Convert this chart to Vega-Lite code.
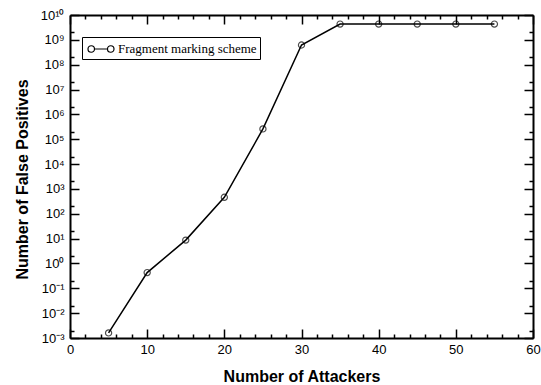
{
  "$schema": "https://vega.github.io/schema/vega-lite/v6.json",
  "width": 463,
  "height": 323,
  "autosize": "none",
  "padding": {"left": 70, "top": 15, "right": 8, "bottom": 47},
  "background": "white",
  "config": {
    "view": {"stroke": null},
    "axis": {
      "grid": false,
      "labelFlush": false,
      "domainColor": "black",
      "domainWidth": 2,
      "tickColor": "black",
      "tickWidth": 1.5,
      "labelColor": "black",
      "labelFont": "Liberation Sans",
      "labelFontSize": 13,
      "titleFont": "Liberation Sans",
      "titleFontSize": 16,
      "titleFontWeight": "bold",
      "titleColor": "black"
    }
  },
  "data": {
    "values": [
      {"attackers": 5, "fp": 0.0016},
      {"attackers": 10, "fp": 0.43},
      {"attackers": 15, "fp": 8.7},
      {"attackers": 20, "fp": 460},
      {"attackers": 25, "fp": 260000},
      {"attackers": 30, "fp": 620000000},
      {"attackers": 35, "fp": 4300000000},
      {"attackers": 40, "fp": 4300000000},
      {"attackers": 45, "fp": 4300000000},
      {"attackers": 50, "fp": 4300000000},
      {"attackers": 55, "fp": 4300000000}
    ]
  },
  "layer": [
    {
      "mark": {"type": "line", "strokeWidth": 1.5},
      "encoding": {
        "x": {
          "field": "attackers", "type": "quantitative",
          "scale": {"domain": [0, 60], "nice": false, "zero": false},
          "axis": {
            "orient": "bottom",
            "values": [0, 10, 20, 30, 40, 50, 60],
            "tickSize": -9,
            "labelPadding": 14,
            "labelBaseline": "top",
            "title": "Number of Attackers",
            "titleY": 43,
            "titleBaseline": "alphabetic"
          }
        },
        "y": {
          "field": "fp", "type": "quantitative",
          "scale": {"type": "log", "domain": [0.001, 10000000000], "nice": false},
          "axis": {
            "orient": "left",
            "values": [0.001, 0.01, 0.1, 1, 10, 100, 1000, 10000, 100000, 1000000, 10000000, 100000000, 1000000000, 10000000000],
            "tickSize": -9,
            "labelPadding": 15,
            "labelExpr": "datum.value < 0.005 ? '10⁻³' : datum.value < 0.05 ? '10⁻²' : datum.value < 0.5 ? '10⁻¹' : datum.value < 5 ? '10⁰' : datum.value < 50 ? '10¹' : datum.value < 500 ? '10²' : datum.value < 5000 ? '10³' : datum.value < 50000 ? '10⁴' : datum.value < 500000 ? '10⁵' : datum.value < 5000000 ? '10⁶' : datum.value < 50000000 ? '10⁷' : datum.value < 500000000 ? '10⁸' : datum.value < 5000000000 ? '10⁹' : '10¹⁰'",
            "title": "Number of False Positives",
            "titleX": -43,
            "titleY": 164,
            "titleBaseline": "alphabetic",
            "titleAngle": 270
          }
        },
        "color": {
          "datum": "Fragment marking scheme",
          "scale": {"range": ["black"]},
          "legend": {
            "title": null,
            "orient": "none",
            "legendX": 12,
            "legendY": 22,
            "strokeColor": "black",
            "padding": 3,
            "symbolType": "M-1.6,0 A0.4,0.4 0 1,1 -0.8,0 A0.4,0.4 0 1,1 -1.6,0 M-0.8,0 L0.8,0 M0.8,0 A0.4,0.4 0 1,1 1.6,0 A0.4,0.4 0 1,1 0.8,0",
            "symbolSize": 264,
            "symbolStrokeWidth": 1.2,
            "symbolFillColor": "transparent",
            "symbolOffset": 7,
            "labelOffset": 8,
            "labelFont": "Liberation Serif",
            "labelFontSize": 13,
            "labelColor": "black"
          }
        }
      }
    },
    {
      "mark": {"type": "point", "shape": "circle", "filled": false, "color": "black", "size": 38, "strokeWidth": 1.2},
      "encoding": {
        "x": {
          "field": "attackers", "type": "quantitative",
          "scale": {"domain": [0, 60], "nice": false, "zero": false},
          "axis": {"orient": "top", "values": [0, 10, 20, 30, 40, 50, 60], "tickSize": -9, "labels": false, "title": null}
        },
        "y": {
          "field": "fp", "type": "quantitative",
          "scale": {"type": "log", "domain": [0.001, 10000000000], "nice": false},
          "axis": {"orient": "right", "values": [0.001, 0.01, 0.1, 1, 10, 100, 1000, 10000, 100000, 1000000, 10000000, 100000000, 1000000000, 10000000000], "tickSize": -9, "labels": false, "title": null}
        }
      }
    },
    {
      "mark": {"type": "point", "opacity": 0},
      "encoding": {
        "x": {
          "field": "attackers", "type": "quantitative",
          "scale": {"domain": [0, 60], "nice": false, "zero": false},
          "axis": {"orient": "bottom", "values": [2, 4, 6, 8, 12, 14, 16, 18, 22, 24, 26, 28, 32, 34, 36, 38, 42, 44, 46, 48, 52, 54, 56, 58], "tickSize": -4, "labels": false, "domain": false, "title": null}
        },
        "y": {
          "field": "fp", "type": "quantitative",
          "scale": {"type": "log", "domain": [0.001, 10000000000], "nice": false},
          "axis": {"orient": "left", "values": [0.002, 0.02, 0.2, 2, 20, 200, 2000, 20000, 200000, 2000000, 20000000, 200000000, 2000000000], "tickSize": -4, "labels": false, "domain": false, "title": null}
        }
      }
    },
    {
      "mark": {"type": "point", "opacity": 0},
      "encoding": {
        "x": {
          "field": "attackers", "type": "quantitative",
          "scale": {"domain": [0, 60], "nice": false, "zero": false},
          "axis": {"orient": "top", "values": [2, 4, 6, 8, 12, 14, 16, 18, 22, 24, 26, 28, 32, 34, 36, 38, 42, 44, 46, 48, 52, 54, 56, 58], "tickSize": -4, "labels": false, "domain": false, "title": null}
        },
        "y": {
          "field": "fp", "type": "quantitative",
          "scale": {"type": "log", "domain": [0.001, 10000000000], "nice": false},
          "axis": {"orient": "right", "values": [0.002, 0.02, 0.2, 2, 20, 200, 2000, 20000, 200000, 2000000, 20000000, 200000000, 2000000000], "tickSize": -4, "labels": false, "domain": false, "title": null}
        }
      }
    }
  ]
}
